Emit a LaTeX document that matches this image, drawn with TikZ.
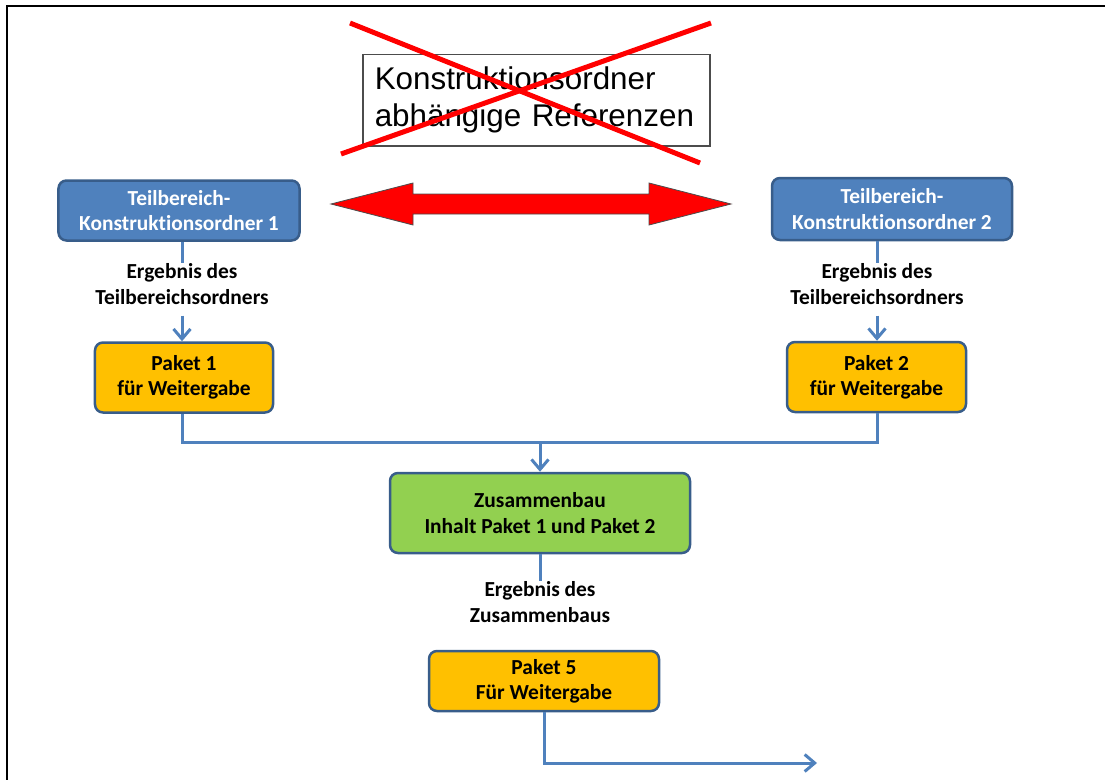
\documentclass[tikz,border=0pt]{standalone}
\usepackage{fontspec}
\setmainfont[Ligatures=NoCommon]{Carlito}
\newfontfamily\arialfont{Liberation Sans}
\usetikzlibrary{arrows.meta}
\definecolor{ppblue}{HTML}{4F81BD}
\definecolor{ppborder}{HTML}{385D8A}
\definecolor{pporange}{HTML}{FFC000}
\definecolor{ppgreen}{HTML}{92D050}
\begin{document}
\begin{tikzpicture}[x=1bp,y=-1bp,
  box/.style={rounded corners=8bp, line width=2.5bp, draw=ppborder, align=center,
    font=\bfseries\fontsize{21.5}{25.5}\selectfont, inner sep=0pt},
  bluebox/.style={box, fill=ppblue, text=white},
  orangebox/.style={box, fill=pporange},
  greenbox/.style={box, fill=ppgreen},
  lbl/.style={align=center, font=\bfseries\fontsize{21.5}{26}\selectfont, inner sep=0pt},
  conn/.style={draw=ppblue, line width=3bp},
  arr/.style={conn, -{Straight Barb[length=10bp,width=17bp]}},
  cross/.style={draw=red, line width=5bp},
  frame/.style={draw=black, line width=2bp}
]
\useasboundingbox (0,0) rectangle (1105,780);
\draw[frame] (7,780) -- (7,6) -- (1105,6);

% crossed-out box
\node[draw=black!70, line width=1.5bp, minimum width=347bp, minimum height=91bp,
  text width=323bp, inner xsep=12bp, align=left,
  font=\arialfont\fontsize{31.5}{37}\selectfont, anchor=north west]
  (ref) at (362,54) {Konstruktionsordner\\abhängige Referenzen};
\draw[cross] (350,23) -- (700,163);
\draw[cross] (711,23) -- (341,154);

% red double arrow
\filldraw[fill=red, draw=black!70, line width=0.8bp]
  (331,204) -- (413,183) -- (413,194) -- (649,194) -- (649,183) -- (731,204)
  -- (649,225) -- (649,214) -- (413,214) -- (413,225) -- cycle;

% boxes
\node[bluebox, minimum width=241bp, minimum height=60bp] (t1) at (179,210.5) {Teilbereich-\\Konstruktionsordner 1};
\node[bluebox, minimum width=240bp, minimum height=62bp] (t2) at (892,209) {Teilbereich-\\Konstruktionsordner 2};
\node[orangebox, minimum width=178bp, minimum height=70bp] (p1) at (184,377.5) {Paket 1\\für Weitergabe};
\node[orangebox, minimum width=179bp, minimum height=70bp] (p2) at (876.5,377) {Paket 2\\für Weitergabe};
\node[greenbox, minimum width=300bp, minimum height=80bp] (z) at (540,513) {Zusammenbau\\Inhalt Paket 1 und Paket 2};
\node[orangebox, minimum width=230bp, minimum height=60bp] (p5) at (544,681) {Paket 5\\Für Weitergabe};

% labels
\node[lbl] (e1) at (182,284) {Ergebnis des\\Teilbereichsordners};
\node[lbl] (e2) at (877,284) {Ergebnis des\\Teilbereichsordners};
\node[lbl] (e3) at (540,602) {Ergebnis des\\Zusammenbaus};

% connectors
\draw[conn] (t1.south -| e1) -- (e1.north);
\draw[arr, shorten <=11bp] (e1.south) -- (p1.north -| e1);
\draw[conn] (t2.south -| e2) -- (e2.north);
\draw[arr, shorten <=11bp] (e2.south) -- (p2.north -| e2);

\coordinate (m) at (540,442);
\draw[conn] (p1.south -| e1) |- (m) -| (p2.south -| e2);
\draw[arr] (m) -- (z.north -| m);
\draw[conn] (z.south -| e3) -- (e3.north);

\coordinate (out) at (817,763);
\draw[arr] (p5.south) |- (out);
\end{tikzpicture}
\end{document}
